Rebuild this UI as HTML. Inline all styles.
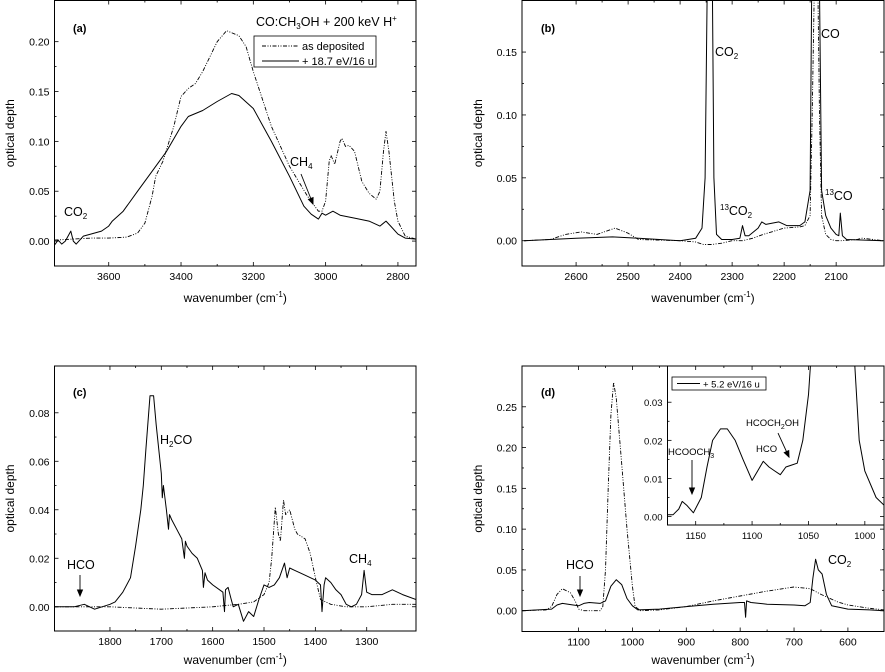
<!DOCTYPE html>
<html><head><meta charset="utf-8"><style>
html,body{margin:0;padding:0;background:#fff;}
svg{display:block;font-family:"Liberation Sans",Arial,sans-serif;}
</style></head><body>
<svg id="fig" width="885" height="672" viewBox="0 0 885 672" xmlns="http://www.w3.org/2000/svg"></svg>
<script>
// ---------- DATA ----------
const aDepX=[3750,3700,3650,3600,3550,3520,3500,3480,3470,3450,3420,3400,3380,3360,3340,3300,3274,3240,3220,3200,3150,3100,3050,3020,3010,3000,2990,2985,2975,2960,2955,2945,2935,2920,2900,2880,2860,2850,2840,2833,2825,2810,2800,2780,2750];
const aDepY=[0.001,0.002,0.003,0.003,0.004,0.008,0.018,0.045,0.065,0.08,0.115,0.145,0.153,0.158,0.17,0.2,0.211,0.206,0.195,0.17,0.115,0.075,0.045,0.03,0.03,0.04,0.08,0.086,0.077,0.1,0.103,0.095,0.096,0.09,0.06,0.048,0.042,0.05,0.09,0.11,0.09,0.04,0.02,0.005,0.002];
const aIrrX=[3750,3740,3730,3720,3705,3698,3690,3680,3670,3650,3620,3600,3590,3560,3520,3480,3440,3400,3380,3340,3300,3260,3240,3200,3150,3100,3060,3040,3020,3010,3000,2980,2960,2920,2880,2850,2833,2820,2800,2780,2750];
const aIrrY=[-0.004,0.001,-0.003,0.0,0.01,0.0,-0.003,0.001,0.005,0.007,0.01,0.015,0.02,0.03,0.05,0.07,0.09,0.115,0.125,0.131,0.14,0.148,0.146,0.133,0.1,0.065,0.035,0.027,0.022,0.028,0.026,0.03,0.026,0.023,0.02,0.015,0.02,0.015,0.007,0.003,0.002];

const bDepX=[2700,2650,2620,2590,2560,2525,2500,2480,2400,2370,2355,2340,2320,2300,2280,2260,2240,2200,2170,2160,2150,2146,2142,2135,2132,2128,2120,2110,2100,2090,2060,2050,2010];
const bDepY=[0,0.001,0.005,0.007,0.005,0.01,0.006,0.001,0,-0.001,-0.003,-0.003,-0.002,0,0,0.002,0.005,0.01,0.011,0.012,0.02,0.1,0.2,0.2,0.1,0.02,0.005,0.001,0,0,0.001,0.002,0];
const bIrrX=[2700,2600,2530,2480,2400,2370,2358,2352,2348,2338,2335,2330,2320,2300,2285,2280,2275,2268,2250,2243,2235,2210,2195,2170,2160,2150,2147,2132,2128,2120,2110,2100,2095,2092,2088,2080,2010];
const bIrrY=[0,0.002,0.003,0.002,0,0.002,0.01,0.05,0.2,0.2,0.05,0.005,0.001,0.001,0.002,0.012,0.004,0.004,0.01,0.015,0.013,0.015,0.012,0.012,0.015,0.04,0.2,0.2,0.04,0.02,0.01,0.005,0.004,0.022,0.004,0.001,0];

const cIrrX=[1908,1870,1850,1830,1800,1790,1775,1760,1750,1740,1735,1730,1722,1715,1710,1700,1698,1696,1690,1686,1684,1680,1670,1660,1655,1653,1650,1640,1630,1620,1618,1615,1610,1600,1580,1577,1575,1570,1565,1560,1550,1540,1530,1520,1510,1500,1490,1480,1470,1460,1455,1450,1440,1430,1420,1400,1390,1387,1383,1380,1370,1360,1350,1340,1330,1320,1310,1305,1300,1290,1270,1250,1230,1204];
const cIrrY=[0,0,0.001,-0.001,0.001,0.002,0.006,0.012,0.025,0.04,0.05,0.065,0.087,0.087,0.075,0.055,0.045,0.05,0.04,0.032,0.038,0.036,0.032,0.028,0.02,0.027,0.025,0.022,0.02,0.015,0.008,0.014,0.011,0.009,0.006,-0.002,0.007,0.008,0.004,0.0,0.001,-0.006,-0.002,-0.004,0.003,0.009,0.008,0.009,0.012,0.018,0.012,0.016,0.015,0.014,0.013,0.011,0.009,-0.002,0.009,0.012,0.01,0.007,0.005,0.001,0,0.001,0.005,0.015,0.006,0.005,0.005,0.007,0.005,0.003];
const cDepX=[1908,1800,1700,1600,1550,1520,1500,1490,1485,1478,1472,1468,1462,1458,1450,1440,1435,1420,1410,1400,1390,1370,1340,1300,1250,1204];
const cDepY=[0,0,-0.001,0,0.001,0.002,0.005,0.01,0.02,0.041,0.03,0.027,0.044,0.038,0.04,0.032,0.03,0.028,0.022,0.012,0.003,0.001,0,0,0.001,0.001];

const dDepX=[1205,1160,1150,1140,1130,1115,1105,1100,1090,1060,1055,1050,1045,1040,1035,1030,1020,1010,1000,995,985,950,900,850,800,750,700,670,650,620,600,560,533];
const dDepY=[0,0.001,0.005,0.02,0.027,0.022,0.01,0.002,0,0,0.005,0.05,0.15,0.24,0.28,0.26,0.18,0.1,0.03,0.005,0,0.001,0.005,0.012,0.018,0.024,0.029,0.027,0.02,0.011,0.007,0.003,0.001];
const dIrrX=[1205,1150,1140,1130,1110,1100,1090,1080,1060,1050,1040,1030,1020,1010,1000,990,950,900,850,800,792,790,788,780,750,700,680,670,665,660,655,648,640,630,600,560,533];
const dIrrY=[0,0.002,0.007,0.009,0.007,0.006,0.009,0.01,0.009,0.012,0.03,0.038,0.032,0.015,0.006,0.001,0.002,0.005,0.008,0.01,0.01,-0.008,0.012,0.01,0.008,0.007,0.006,0.01,0.04,0.063,0.05,0.045,0.02,0.006,0.002,0.001,0];
const insX=[1175,1170,1165,1162,1158,1152,1145,1140,1135,1128,1122,1115,1108,1100,1095,1090,1085,1080,1075,1070,1065,1060,1055,1050,1047,1010,1005,1000,990,983];
const insY=[0.0005,0.0005,0.002,0.004,0.003,0.001,0.005,0.013,0.02,0.023,0.023,0.02,0.015,0.0095,0.012,0.0145,0.013,0.012,0.011,0.013,0.0135,0.014,0.02,0.032,0.045,0.045,0.02,0.012,0.005,0.003];

const DASH="4,1.5,1,1.5,1,1.5";
const NS="http://www.w3.org/2000/svg";
const svg=document.getElementById('fig');
function mk(tag,attrs,parent){const e=document.createElementNS(NS,tag);for(const k in attrs)e.setAttribute(k,attrs[k]);(parent||svg).appendChild(e);return e;}
function txt(x,y,s,size,parent,anchor){const t=mk('text',{x:x,y:y,'font-size':size,'text-anchor':anchor||'start',fill:'#000'},parent);t.innerHTML=s;return t;}

function panel(p){
  const g=mk('g',{});
  
  
  const X=v=>p.l+(p.x0-v)/(p.x0-p.x1)*(p.r-p.l);
  const Y=v=>p.b-(v-p.y0)/(p.y1-p.y0)*(p.b-p.t);
  const cid='clip-'+p.name;
  const cp=mk('clipPath',{id:cid},g);mk('rect',{x:p.l,y:p.t,width:p.r-p.l,height:p.b-p.t},cp);
  // ticks
  const tg=mk('g',{stroke:'#000','stroke-width':0.8},g);
  for(let v=p.xt0;v<=p.xt1+1e-9;v+=p.xs/2){const x=X(v);const major=Math.abs(((v-p.xt0)/p.xs)-Math.round((v-p.xt0)/p.xs))<1e-6;const L=major?4:2;
    mk('line',{x1:x,y1:p.b,x2:x,y2:p.b-L},tg);mk('line',{x1:x,y1:p.t,x2:x,y2:p.t+L},tg);
    if(major){const t=txt(x,p.b+14,String(Math.round(v)),p.fs,g,'middle');}}
  for(let v=p.yt0;v<=p.yt1+1e-9;v+=p.ys/2){const y=Y(v);const major=Math.abs(((v-p.yt0)/p.ys)-Math.round((v-p.yt0)/p.ys))<1e-6;const L=major?4:2;
    mk('line',{x1:p.l,y1:y,x2:p.l+L,y2:y},tg);mk('line',{x1:p.r,y1:y,x2:p.r-L,y2:y},tg);
    if(major){const t=txt(p.l-5,y+4,v.toFixed(p.yd),p.fs,g,'end');}}
  // series
  const sg=mk('g',{'clip-path':'url(#'+cid+')'},g);
  p.series.forEach(s=>{
    const d=s.xs.map((v,i)=>(i?'L':'M')+X(v).toFixed(1)+','+Y(s.ys[i]).toFixed(1)).join('');
    const path=mk('path',{d:d,fill:'none',stroke:'#000','stroke-width':s.dash?0.9:1,'stroke-dasharray':s.dash?DASH:'none','stroke-linejoin':'round'},sg);
    
    
  });
  const fr=mk('rect',{x:p.l,y:p.t,width:p.r-p.l,height:p.b-p.t,fill:'none',stroke:'#000','stroke-width':1},g);
  
  
  if(p.xtitle){const t=txt((p.l+p.r)/2,p.xtitleY,'wavenumber (cm<tspan dy="-5" font-size="8">-1</tspan><tspan dy="5">)</tspan>',12,g,'middle');}
  if(p.ytitleX){const t=mk('text',{x:0,y:0,'font-size':12,'text-anchor':'middle',transform:'translate('+p.ytitleX+','+((p.t+p.b)/2)+') rotate(-90)'},g);t.textContent='optical depth';}
  return g;
}

const FS=10.5;
panel({name:'panel-a',l:54.5,r:416,t:0.5,b:266,x0:3750,x1:2750,y0:-0.025,y1:0.2413,xt0:2800,xt1:3600,xs:200,yt0:0,yt1:0.2,ys:0.05,yd:2,fs:FS,xtitle:1,xtitleY:302,ytitleX:14,
  series:[{name:'as-deposited-line',xs:aDepX,ys:aDepY,dash:1},{name:'irradiated-line',xs:aIrrX,ys:aIrrY}]});
panel({name:'panel-b',l:522,r:884,t:0.5,b:266,x0:2704,x1:2008,y0:-0.0201,y1:0.191,xt0:2100,xt1:2600,xs:100,yt0:0,yt1:0.15,ys:0.05,yd:2,fs:FS,xtitle:1,xtitleY:302,ytitleX:482,
  series:[{name:'as-deposited-line',xs:bDepX,ys:bDepY,dash:1},{name:'irradiated-line',xs:bIrrX,ys:bIrrY}]});
panel({name:'panel-c',l:54.5,r:416,t:366,b:631,x0:1908,x1:1204,y0:-0.0100,y1:0.0993,xt0:1300,xt1:1800,xs:100,yt0:0,yt1:0.08,ys:0.02,yd:2,fs:FS,xtitle:1,xtitleY:664,ytitleX:14,
  series:[{name:'as-deposited-line',xs:cDepX,ys:cDepY,dash:1},{name:'irradiated-line',xs:cIrrX,ys:cIrrY}]});
panel({name:'panel-d',l:522,r:884,t:366,b:631.5,x0:1205,x1:533,y0:-0.0255,y1:0.3,xt0:600,xt1:1100,xs:100,yt0:0,yt1:0.25,ys:0.05,yd:2,fs:FS,xtitle:1,xtitleY:664,ytitleX:482,
  series:[{name:'as-deposited-line',xs:dDepX,ys:dDepY,dash:1},{name:'irradiated-line',xs:dIrrX,ys:dIrrY}]});
const ins=mk('rect',{x:667.5,y:366,width:216.5,height:159,fill:'#fff'});
panel({name:'inset-d',l:667.5,r:884,t:366,b:525,x0:1175,x1:983,y0:-0.0022,y1:0.0395,xt0:1000,xt1:1150,xs:50,yt0:0,yt1:0.03,ys:0.01,yd:2,fs:9.5,
  series:[{name:'inset-irradiated-line',xs:insX,ys:insY}]});

// ---------- annotations ----------
function label(x,y,html,size,name,weight){const t=txt(x,y,html,size);if(weight)t.setAttribute('font-weight','bold');return t;}
function arrow(x1,y1,x2,y2,name){const g=mk('g',{stroke:'#000','stroke-width':0.9,fill:'#000'});
  mk('line',{x1:x1,y1:y1,x2:x2,y2:y2},g);const a=Math.atan2(y2-y1,x2-x1),L=6,w=2.5;
  const p1=[x2-L*Math.cos(a)+w*Math.sin(a),y2-L*Math.sin(a)-w*Math.cos(a)],p2=[x2-L*Math.cos(a)-w*Math.sin(a),y2-L*Math.sin(a)+w*Math.cos(a)];
  mk('polygon',{points:x2+','+y2+' '+p1.join(',')+' '+p2.join(',')},g);}
label(73,32,'(a)',11,'panel-label-a',1);
label(256,26,'CO:CH<tspan font-size="8" dy="3">3</tspan><tspan dy="-3">OH + 200 keV H</tspan><tspan font-size="8" dy="-5">+</tspan>',12.5,'panel-a-title');
const lg=mk('g',{});
mk('rect',{x:254,y:36,width:122,height:31,fill:'#fff',stroke:'#000','stroke-width':0.8},lg);
mk('line',{x1:262,y1:46,x2:299,y2:46,stroke:'#000','stroke-dasharray':DASH},lg);
mk('line',{x1:262,y1:61,x2:299,y2:61,stroke:'#000'},lg);
txt(302,50,'as deposited',11,lg);txt(302,65,'+ 18.7 eV/16 u',11,lg);
label(64,216,'CO<tspan font-size="8" dy="3">2</tspan>',12.5,'co2-label-a');
label(290,166,'CH<tspan font-size="8" dy="3">4</tspan>',12.5,'ch4-label-a');
arrow(301,174,313,204,'ch4-arrow-a');
label(541,32,'(b)',11,'panel-label-b',1);
label(715,56,'CO<tspan font-size="8" dy="3">2</tspan>',12.5,'co2-label-b');
label(821,38,'CO',12.5,'co-label-b');
label(720,215,'<tspan font-size="8" dy="-5">13</tspan><tspan dy="5">CO</tspan><tspan font-size="8" dy="3">2</tspan>',12.5,'13co2-label-b');
label(825,200,'<tspan font-size="8" dy="-5">13</tspan><tspan dy="5">CO</tspan>',12.5,'13co-label-b');
label(73,396,'(c)',11,'panel-label-c',1);
label(160,444,'H<tspan font-size="8" dy="3">2</tspan><tspan dy="-3">CO</tspan>',12.5,'h2co-label-c');
label(349,563,'CH<tspan font-size="8" dy="3">4</tspan>',12.5,'ch4-label-c');
label(67,569,'HCO',12.5,'hco-label-c');
arrow(80,575,80,596,'hco-arrow-c');
label(541,396,'(d)',11,'panel-label-d',1);
label(566,569,'HCO',12.5,'hco-label-d');
arrow(580,576,580,596,'hco-arrow-d');
label(828,564,'CO<tspan font-size="8" dy="3">2</tspan>',12.5,'co2-label-d');
const lg2=mk('g',{});
mk('rect',{x:672,y:377,width:94,height:13,fill:'#fff',stroke:'#000','stroke-width':0.8},lg2);
mk('line',{x1:677,y1:383.5,x2:700,y2:383.5,stroke:'#000'},lg2);
txt(703,387.5,'+ 5.2 eV/16 u',9.5,lg2);
label(668,455,'HCOOCH<tspan font-size="7" dy="3">3</tspan>',9.5,'hcooch3-label');
arrow(692,460,692,494,'hcooch3-arrow');
label(756,452,'HCO',9.5,'hco-label-inset');
label(746,426,'HCOCH<tspan font-size="7" dy="3">2</tspan><tspan dy="-3">OH</tspan>',9.5,'hcoch2oh-label');
arrow(778,433,789,457,'hcoch2oh-arrow');
</script>
</body></html>
